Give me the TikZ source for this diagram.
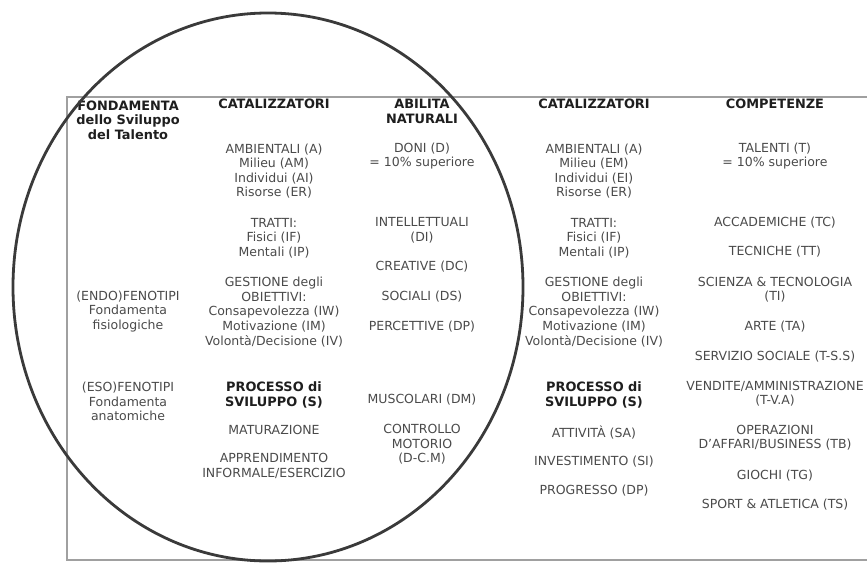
\documentclass[tikz,border=0pt]{standalone}
\usepackage{fontspec}
\setmainfont{DejaVu Sans}
\definecolor{txtgray}{HTML}{4A4A4A}
\definecolor{boldgray}{HTML}{1E1E1E}
\definecolor{framegray}{HTML}{A0A0A0}
\definecolor{ringgray}{HTML}{3A3A3A}
\tikzset{
  cell/.style={align=center, inner sep=0pt, text=txtgray,
    font=\fontsize{12.5}{14.6}\selectfont},
  headcell/.style={cell, text=boldgray,
    font=\fontsize{12.9}{14.6}\selectfont\bfseries},
  framerule/.style={draw=framegray, line width=1.9pt},
  ring/.style={draw=ringgray, line width=2.8pt}
}
\begin{document}
\begin{tikzpicture}[x=1pt,y=-1pt]
\useasboundingbox (0,0) rectangle (867,562);

% table frame
\draw[framerule] (867,97) -- (67,97) -- (67,560) -- (867,560);

% column 1: foundations
\node[headcell] (h1) at (128,120) {FONDAMENTA\\dello Sviluppo\\del Talento};
\node[cell] (endo) at (128,311.5) {(ENDO)FENOTIPI\\Fondamenta\\fisiologiche};
\node[cell] (eso)  at (128,401.5) {(ESO)FENOTIPI\\Fondamenta\\anatomiche};

% column 2: catalysts
\node[headcell] (h2) at (274,104) {CATALIZZATORI};
\node[cell] (amb1) at (274,171) {AMBIENTALI (A)\\Milieu (AM)\\Individui (AI)\\Risorse (ER)};
\node[cell] (tra1) at (274,238) {TRATTI:\\Fisici (IF)\\Mentali (IP)};
\node[cell] (ges1) at (274,312) {GESTIONE degli\\OBIETTIVI:\\Consapevolezza (IW)\\Motivazione (IM)\\Volontà/Decisione (IV)};
\node[headcell] (pro1) at (274,395) {PROCESSO di\\SVILUPPO (S)};
\node[cell] (mat) at (274,430) {MATURAZIONE};
\node[cell] (app) at (274,466) {APPRENDIMENTO\\INFORMALE/ESERCIZIO};

% column 3: natural abilities
\node[headcell] (h3) at (422,111.5) {ABILITA\\NATURALI};
\node[cell] (doni) at (422,156) {DONI (D)\\= 10\% superiore};
\node[cell] (int)  at (422,230) {INTELLETTUALI\\(DI)};
\node[cell] (cre)  at (422,267) {CREATIVE (DC)};
\node[cell] (soc)  at (422,297) {SOCIALI (DS)};
\node[cell] (per)  at (422,327) {PERCETTIVE (DP)};
\node[cell] (mus)  at (422,400) {MUSCOLARI (DM)};
\node[cell] (con)  at (422,444.5) {CONTROLLO\\MOTORIO\\(D-C.M)};

% column 4: catalysts
\node[headcell] (h4) at (594,104) {CATALIZZATORI};
\node[cell] (amb2) at (594,171) {AMBIENTALI (A)\\Milieu (EM)\\Individui (EI)\\Risorse (ER)};
\node[cell] (tra2) at (594,238) {TRATTI:\\Fisici (IF)\\Mentali (IP)};
\node[cell] (ges2) at (594,312) {GESTIONE degli\\OBIETTIVI:\\Consapevolezza (IW)\\Motivazione (IM)\\Volontà/Decisione (IV)};
\node[headcell] (pro2) at (594,395) {PROCESSO di\\SVILUPPO (S)};
\node[cell] (att) at (594,433) {ATTIVITÀ (SA)};
\node[cell] (inv) at (594,462) {INVESTIMENTO (SI)};
\node[cell] (prg) at (594,491) {PROGRESSO (DP)};

% column 5: competences
\node[headcell] (h5) at (775,104) {COMPETENZE};
\node[cell] (tal) at (775,156) {TALENTI (T)\\= 10\% superiore};
\node[cell] (acc) at (775,223) {ACCADEMICHE (TC)};
\node[cell] (tec) at (775,252) {TECNICHE (TT)};
\node[cell] (sci) at (775,289.5) {SCIENZA \& TECNOLOGIA\\(TI)};
\node[cell] (art) at (775,327) {ARTE (TA)};
\node[cell] (ser) at (775,357) {SERVIZIO SOCIALE (T-S.S)};
\node[cell] (ven) at (775,393.5) {VENDITE/AMMINISTRAZIONE\\(T-V.A)};
\node[cell] (ope) at (775,437.5) {OPERAZIONI\\D'AFFARI/BUSINESS (TB)};
\node[cell] (gio) at (775,476) {GIOCHI (TG)};
\node[cell] (spo) at (775,505) {SPORT \& ATLETICA (TS)};

% enclosing oval around the first three columns
\draw[ring] (268,287) ellipse [x radius=255pt, y radius=274pt];
\end{tikzpicture}
\end{document}
